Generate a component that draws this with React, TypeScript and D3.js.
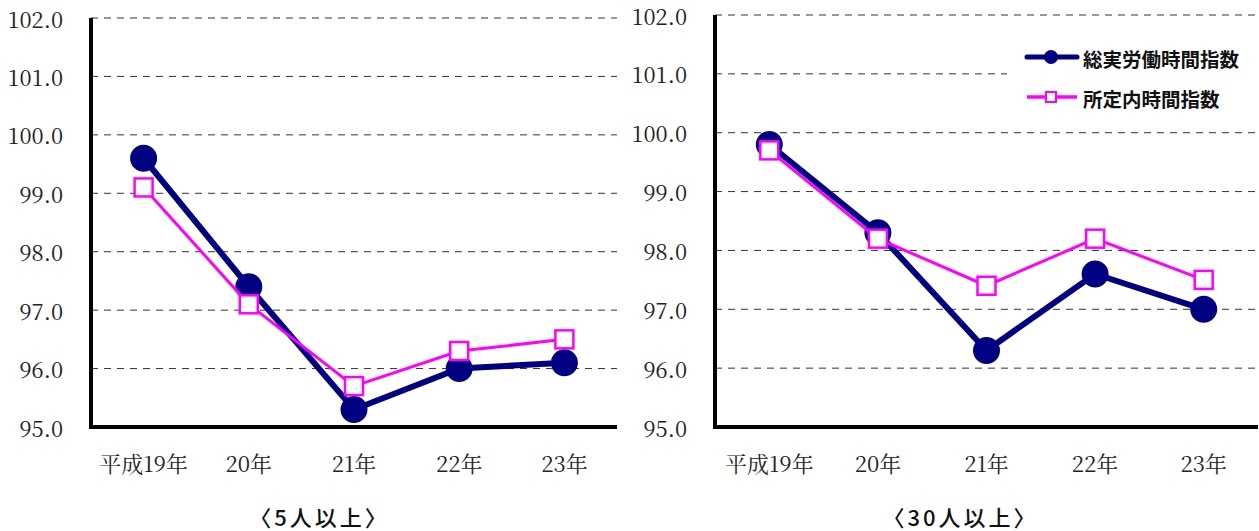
import React from "react";
import * as d3 from "d3";

const categories = ["平成19年", "20年", "21年", "22年", "23年"];
const yTicks = [95, 96, 97, 98, 99, 100, 101, 102];
const seriesNames = ["総実労働時間指数", "所定内時間指数"];
const total5 = [99.6, 97.4, 95.3, 96.0, 96.1];
const scheduled5 = [99.1, 97.1, 95.7, 96.3, 96.5];
const total30 = [99.8, 98.3, 96.3, 97.6, 97.0];
const scheduled30 = [99.7, 98.2, 97.4, 98.2, 97.5];
const captions = ["〈5人以上〉", "〈30人以上〉"];

const NAVY = "#000080";
const MAGENTA = "#FF00FF";
const SERIF = "Noto Serif CJK JP";
const GOTHIC = "Noto Sans CJK JP";

type PanelProps = {
  x0: number;
  x1: number;
  yTop: number;
  yBottom: number;
  total: number[];
  scheduled: number[];
  caption: string;
  captionX: number;
  legend?: boolean;
};

function Panel({ x0, x1, yTop, yBottom, total, scheduled, caption, captionX, legend }: PanelProps) {
  const x = d3.scaleBand<string>().domain(categories).range([x0, x1]).padding(0);
  const y = d3.scaleLinear().domain([95, 102]).range([yBottom, yTop]);
  const cx = (c: string) => (x(c) as number) + x.bandwidth() / 2;
  const line = d3
    .line<number>()
    .x((_, i) => cx(categories[i]))
    .y((d) => y(d));
  const serifStyle = { fontFamily: SERIF, fontSize: "22px" } as React.CSSProperties;
  const legendStyle = { fontFamily: GOTHIC, fontWeight: 700, fontSize: "19.5px" } as React.CSSProperties;
  return (
    <g>
      {yTicks.slice(1).map((t) => (
        <line
          key={t}
          x1={x0}
          x2={x1}
          y1={y(t)}
          y2={y(t)}
          stroke="#333"
          strokeWidth={1}
          strokeDasharray="7,6"
        />
      ))}
      {yTicks.map((t) => (
        <text
          key={t}
          x={x0 - 28}
          y={y(t)}
          textAnchor="end"
          dominantBaseline="central"
          style={serifStyle}
          fill="#222"
        >
          {t.toFixed(1)}
        </text>
      ))}
      {categories.map((c) => (
        <text
          key={c}
          x={cx(c)}
          y={yBottom + 35}
          textAnchor="middle"
          dominantBaseline="central"
          style={serifStyle}
          fill="#222"
        >
          {c}
        </text>
      ))}
      <line x1={x0} x2={x0} y1={yTop} y2={yBottom + 2} stroke="#000" strokeWidth={4} />
      <line x1={x0 - 2} x2={x1} y1={yBottom} y2={yBottom} stroke="#000" strokeWidth={4} />
      <path d={line(total) || ""} fill="none" stroke={NAVY} strokeWidth={6} />
      {total.map((v, i) => (
        <circle key={i} cx={cx(categories[i])} cy={y(v)} r={13.5} fill={NAVY} />
      ))}
      <path d={line(scheduled) || ""} fill="none" stroke={MAGENTA} strokeWidth={3} />
      {scheduled.map((v, i) => (
        <rect
          key={i}
          x={cx(categories[i]) - 9}
          y={y(v) - 9}
          width={18}
          height={18}
          fill="#fff"
          stroke={MAGENTA}
          strokeWidth={2.5}
        />
      ))}
      <text
        x={captionX + 1.5}
        y={516}
        textAnchor="middle"
        dominantBaseline="central"
        style={{ fontFamily: GOTHIC, fontWeight: 500, fontSize: "22px", letterSpacing: "3px" }}
        fill="#111"
      >
        {caption}
      </text>
      {legend && (
        <g>
          <rect x={1007} y={35} width={252} height={80} fill="#fff" />
          <line x1={1027} x2={1077} y1={57} y2={57} stroke={NAVY} strokeWidth={5} strokeLinecap="round" />
          <circle cx={1051} cy={57} r={7} fill={NAVY} />
          <text x={1083} y={58} dominantBaseline="central" style={legendStyle} fill="#111">
            {seriesNames[0]}
          </text>
          <line x1={1027} x2={1077} y1={97} y2={97} stroke={MAGENTA} strokeWidth={3.5} />
          <rect x={1046} y={92} width={10} height={10} fill="#fff" stroke={MAGENTA} strokeWidth={2} />
          <text x={1083} y={98} dominantBaseline="central" style={legendStyle} fill="#111">
            {seriesNames[1]}
          </text>
        </g>
      )}
    </g>
  );
}

export default function App() {
  return (
    <svg
      width={1259}
      height={531}
      style={{ position: "absolute", left: 0, top: 0, background: "#fff" }}
    >
      <rect width={1259} height={531} fill="#fff" />
      <Panel
        x0={91}
        x1={617}
        yTop={18}
        yBottom={427}
        total={total5}
        scheduled={scheduled5}
        caption={captions[0]}
        captionX={318}
      />
      <Panel
        x0={715}
        x1={1258}
        yTop={15}
        yBottom={427}
        total={total30}
        scheduled={scheduled30}
        caption={captions[1]}
        captionX={959}
        legend
      />
    </svg>
  );
}
